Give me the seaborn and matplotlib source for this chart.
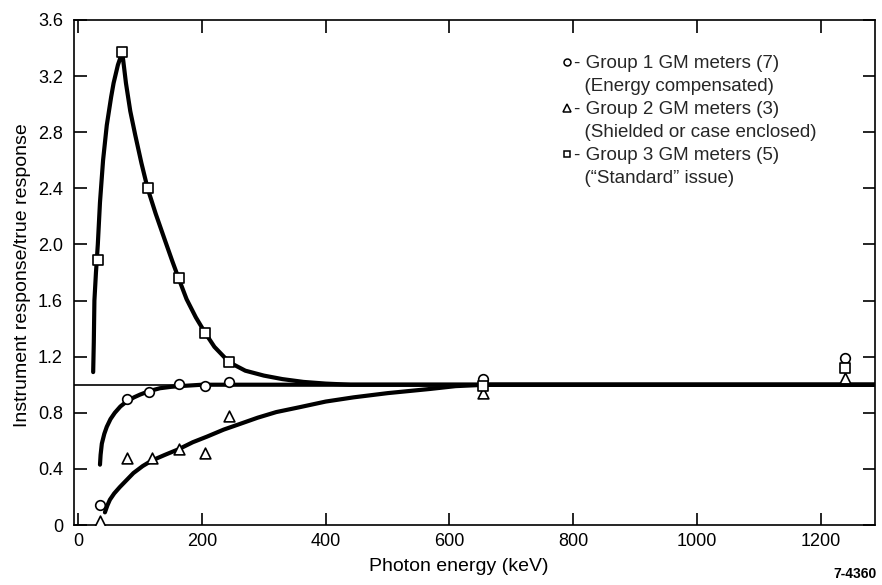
import matplotlib
matplotlib.use("Agg")
import matplotlib.pyplot as plt
from matplotlib.lines import Line2D
import seaborn as sns
import pandas as pd

# ---- measured points (keV, instrument response / true response) ----
energy_g1 = [35, 79, 115, 162, 205, 243, 655, 1240]
resp_g1 = [0.14, 0.90, 0.95, 1.005, 0.99, 1.02, 1.04, 1.19]

energy_g2 = [35, 79, 119, 162, 205, 244, 655, 1240]
resp_g2 = [0.03, 0.48, 0.475, 0.54, 0.51, 0.78, 0.94, 1.05]

energy_g3 = [31, 71, 112, 162, 205, 244, 655, 1240]
resp_g3 = [1.89, 3.37, 2.40, 1.76, 1.37, 1.16, 0.99, 1.12]

# ---- hand-drawn fitted curves ----
curve_g1_x = [35, 36, 38, 42, 46, 52, 59, 68, 78, 90, 100, 115, 132, 150, 164, 200, 1290]
curve_g1_y = [0.43, 0.50, 0.58, 0.65, 0.70, 0.755, 0.80, 0.845, 0.88, 0.91, 0.93, 0.955,
              0.975, 0.985, 0.99, 1.0, 1.0]

curve_g2_x = [43, 47, 51, 58, 67, 78, 89, 104, 119, 140, 162, 185, 208, 235, 261, 290,
              320, 358, 400, 445, 500, 569, 610, 660, 1290]
curve_g2_y = [0.09, 0.14, 0.18, 0.225, 0.27, 0.32, 0.37, 0.42, 0.46, 0.50, 0.54, 0.59,
              0.63, 0.68, 0.72, 0.765, 0.805, 0.84, 0.88, 0.91, 0.94, 0.97, 0.99, 1.0, 1.0]

curve_g3_x = [24, 25, 26, 28.5, 31.5, 35, 40, 46, 53, 57, 64, 71, 77, 84, 92, 102, 112,
              125, 140, 152, 162, 175, 190, 205, 220, 244, 270, 300, 330, 364, 400, 440, 1290]
curve_g3_y = [1.09, 1.30, 1.60, 1.80, 2.00, 2.30, 2.60, 2.85, 3.05, 3.15, 3.28, 3.37,
              3.15, 2.95, 2.78, 2.58, 2.40, 2.22, 2.03, 1.88, 1.76, 1.61, 1.48, 1.37,
              1.27, 1.16, 1.10, 1.065, 1.04, 1.02, 1.008, 1.0, 1.0]

x_ticks = [0, 200, 400, 600, 800, 1000, 1200]
y_ticks = [0, 0.4, 0.8, 1.2, 1.6, 2.0, 2.4, 2.8, 3.2, 3.6]
y_tick_labels = ["0", "0.4", "0.8", "1.2", "1.6", "2.0", "2.4", "2.8", "3.2", "3.6"]

legend_labels = [
    "- Group 1 GM meters (7)",
    "  (Energy compensated)",
    "- Group 2 GM meters (3)",
    "  (Shielded or case enclosed)",
    "- Group 3 GM meters (5)",
    "  (\u201cStandard\u201d issue)",
]

sns.set_theme(style="ticks")
plt.rcParams["font.family"] = ["Liberation Sans", "DejaVu Sans"]
plt.rcParams["axes.linewidth"] = 1.2

fig = plt.figure(figsize=(8.82, 5.85), dpi=100)
ax = fig.add_axes([74 / 882, 60 / 585, 801 / 882, 505 / 585])

line_kw = dict(color="black", linewidth=3.0, sort=False, estimator=None, ax=ax, zorder=3)
sns.lineplot(x=curve_g1_x, y=curve_g1_y, **line_kw)
sns.lineplot(x=curve_g2_x, y=curve_g2_y, **line_kw)
sns.lineplot(x=curve_g3_x, y=curve_g3_y, **line_kw)

ax.axhline(1.0, color="black", linewidth=1.2, zorder=2)

pts_kw = dict(facecolor="white", edgecolor="black", linewidth=1.2, ax=ax, zorder=5, legend=False)
sns.scatterplot(x=energy_g1, y=resp_g1, marker="o", s=48, **pts_kw)
sns.scatterplot(x=energy_g2, y=resp_g2, marker="^", s=60, **pts_kw)
sns.scatterplot(x=energy_g3, y=resp_g3, marker="s", s=44, **pts_kw)

ax.set_xlim(-7, 1288)
ax.set_ylim(0, 3.6)
ax.set_xticks(x_ticks)
ax.set_xticklabels([str(t) for t in x_ticks])
ax.set_yticks(y_ticks)
ax.set_yticklabels(y_tick_labels)
ax.tick_params(axis="both", direction="in", length=9, width=1.2, top=True, right=True,
               labelsize=13, colors="black")
ax.tick_params(axis="x", pad=6)
ax.tick_params(axis="y", pad=8)
for sp in ax.spines.values():
    sp.set_visible(True)
    sp.set_color("black")
    sp.set_linewidth(1.2)

ax.set_xlabel("Photon energy (keV)", fontsize=14, color="black")
ax.set_ylabel("Instrument response/true response", fontsize=14, color="black")
ax.xaxis.set_label_coords(0.48, -0.065)
ax.yaxis.set_label_coords(-0.054, 0.495)

blank = Line2D([], [], linestyle="none", marker="")
handles = [
    Line2D([], [], linestyle="none", marker="o", mfc="white", mec="black", ms=5, mew=1.1),
    blank,
    Line2D([], [], linestyle="none", marker="^", mfc="white", mec="black", ms=6, mew=1.1),
    blank,
    Line2D([], [], linestyle="none", marker="s", mfc="white", mec="black", ms=5, mew=1.1),
    blank,
]
ax.legend(handles, legend_labels, loc="upper left", bbox_to_anchor=(0.608, 0.93),
          frameon=False, fontsize=13.5, handlelength=0.6, handletextpad=0.08,
          labelspacing=0.31, borderpad=0, borderaxespad=0)

fig.text(0.994, 1 - 574 / 585, "7-4360", ha="right", va="center", fontsize=10,
         fontweight="bold", color="black")

fig.savefig("out.png", dpi=100, facecolor="white")
